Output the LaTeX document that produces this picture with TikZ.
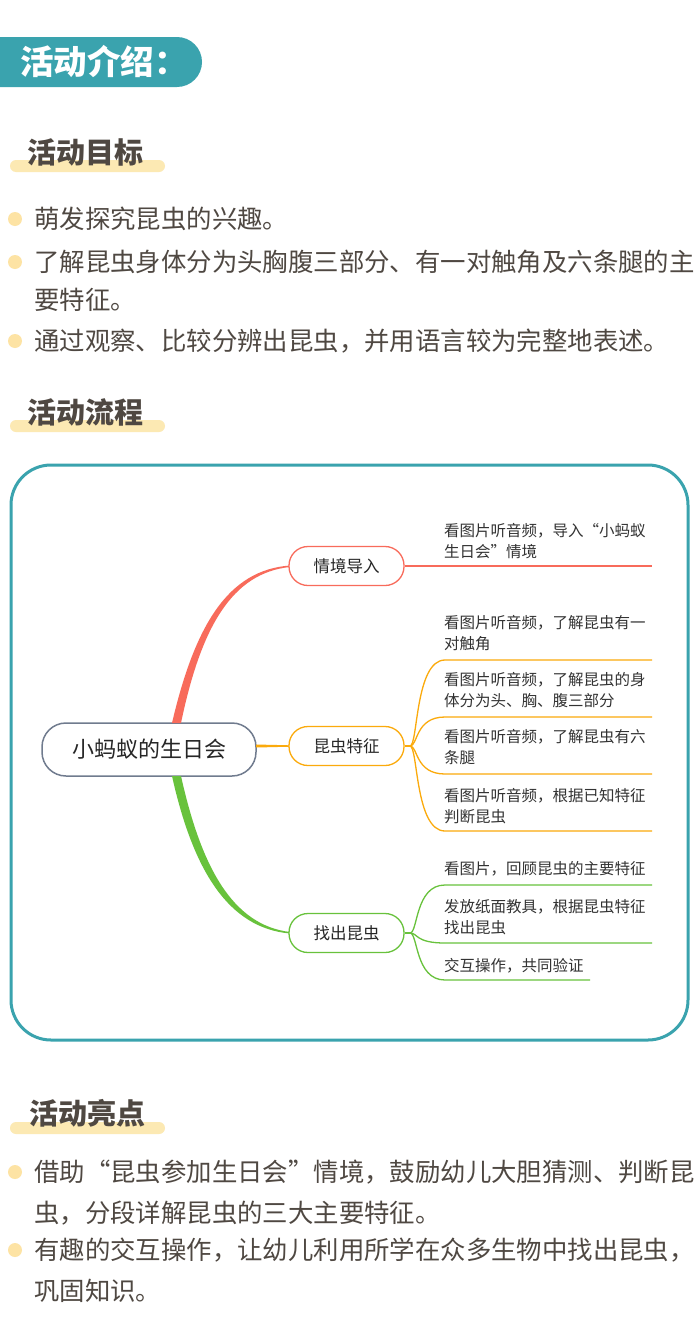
\documentclass[tikz,border=0pt]{standalone}
\usepackage{fontspec}
\newfontfamily\cjk{Noto Sans CJK SC}
\definecolor{teal1}{HTML}{3AA3AE}
\definecolor{txt}{HTML}{4F4842}
\definecolor{hl}{HTML}{FCE9B3}
\definecolor{dot}{HTML}{FDE3A4}
\definecolor{redb}{HTML}{F86B5B}
\definecolor{orab}{HTML}{FBAA0C}
\definecolor{grnb}{HTML}{68C23C}
\definecolor{rootb}{HTML}{707B8E}
\begin{document}
\begin{tikzpicture}[x=1pt,y=-1pt,
  sectitle/.style={anchor=west,inner sep=0pt,text=txt,font=\cjk\bfseries\fontsize{29}{32}\selectfont},
  bullet/.style={anchor=west,inner sep=0pt,text=txt,font=\cjk\fontsize{25.4}{38}\selectfont},
  bdot/.style={fill=dot,draw=none},
  branch/.style={draw=#1,line width=1.3pt,rounded corners=19pt,minimum width=115pt,minimum height=39pt,inner sep=0pt,text=black!85,font=\cjk\fontsize{16.5}{20}\selectfont,fill=white},
  leaf/.style={anchor=west,inner sep=0pt,align=left,text=black!80,font=\cjk\fontsize{15.5}{21}\selectfont},
  lk/.style={draw=#1,line width=1.3pt},
]
\useasboundingbox (0,0) rectangle (700,1333);
\fill[white] (0,0) rectangle (700,1333);
% header pill
\fill[teal1,rounded corners=25pt] (-40,37) rectangle (202,87);
\node[anchor=west,inner sep=0pt,text=white,font=\cjk\bfseries\fontsize{33.5}{36}\selectfont] (hdr) at (20,62) {活动介绍：};
% section 1
\fill[hl,rounded corners=6pt] (10,160) rectangle (165,172);
\node[sectitle] (s1) at (27,152) {活动目标};
\fill[bdot] (15,219) circle (7);
\node[bullet] (b1) at (34,219) {萌发探究昆虫的兴趣。};
\fill[bdot] (15,262) circle (7);
\node[bullet] (b2) at (34,262) {了解昆虫身体分为头胸腹三部分、有一对触角及六条腿的主};
\node[bullet] (b2b) at (34,300) {要特征。};
\fill[bdot] (15,341) circle (7);
\node[bullet] (b3) at (34,341) {通过观察、比较分辨出昆虫，并用语言较为完整地表述。};
% section 2
\fill[hl,rounded corners=6pt] (10,420) rectangle (165,432);
\node[sectitle] (s2) at (27,412) {活动流程};
% frame
\draw[teal1,line width=3pt,rounded corners=40pt] (11,465) rectangle (688,1040);
% root
\node[draw=rootb,line width=1.5pt,rounded corners=24pt,minimum width=214pt,minimum height=53pt,inner sep=0pt,text=black!85,font=\cjk\fontsize{22}{26}\selectfont] (root) at (149,749.5) {小蚂蚁的生日会};
% main branches
\fill[redb] (172,723) .. controls (195,625) and (228,570) .. (290,565.5) -- (290,567) .. controls (232,573) and (201,627) .. (181,723) -- cycle;
\fill[grnb] (172,776) .. controls (193,870) and (228,928) .. (290,933.5) -- (290,932) .. controls (232,925) and (201,866) .. (181,776) -- cycle;
\fill[orab] (256,744.5) -- (290,745.3) -- (290,746.7) -- (256,747.5) -- cycle;
\node[branch=redb] (n1) at (346.5,566) {情境导入};
\node[branch=orab] (n2) at (346.5,746) {昆虫特征};
\node[branch=grnb] (n3) at (346.5,933) {找出昆虫};
% red leaf
\coordinate (r1) at (652,566);
\draw[lk=redb] (n1.east) -- (r1);
\node[leaf] (l1) at (444,541) {看图片听音频，导入“小蚂蚁\\生日会”情境};
% orange leaves
\coordinate (o0) at (410,746);
\draw[lk=orab] (n2.east) -- (o0);
\coordinate (o1) at (652,660);
\coordinate (o2) at (652,717);
\coordinate (o3) at (652,774);
\coordinate (o4) at (652,831);
\draw[lk=orab] (o0) .. controls (418,746) and (415,660) .. (445,660) -- (o1);
\draw[lk=orab] (o0) .. controls (418,746) and (415,717) .. (445,717) -- (o2);
\draw[lk=orab] (o0) .. controls (418,746) and (415,774) .. (445,774) -- (o3);
\draw[lk=orab] (o0) .. controls (418,746) and (415,831) .. (445,831) -- (o4);
\node[leaf] (l2) at (444,633) {看图片听音频，了解昆虫有一\\对触角};
\node[leaf] (l3) at (444,690.5) {看图片听音频，了解昆虫的身\\体分为头、胸、腹三部分};
\node[leaf] (l4) at (444,747.5) {看图片听音频，了解昆虫有六\\条腿};
\node[leaf] (l5) at (444,806) {看图片听音频，根据已知特征\\判断昆虫};
% green leaves
\coordinate (g0) at (410,933);
\draw[lk=grnb] (n3.east) -- (g0);
\coordinate (g1) at (652,885);
\coordinate (g2) at (652,943);
\coordinate (g3) at (590,980);
\draw[lk=grnb] (g0) .. controls (418,933) and (415,885) .. (445,885) -- (g1);
\draw[lk=grnb] (g0) .. controls (418,933) and (415,943) .. (445,943) -- (g2);
\draw[lk=grnb] (g0) .. controls (418,933) and (415,980) .. (445,980) -- (g3);
\node[leaf] (l6) at (444,869) {看图片，回顾昆虫的主要特征};
\node[leaf] (l7) at (444,917) {发放纸面教具，根据昆虫特征\\找出昆虫};
\node[leaf] (l8) at (444,966) {交互操作，共同验证};
% section 3
\fill[hl,rounded corners=6pt] (10,1122) rectangle (165,1134);
\node[sectitle] (s3) at (29,1113) {活动亮点};
\fill[bdot] (15,1172) circle (7);
\node[bullet] (c1) at (34,1172) {借助“昆虫参加生日会”情境，鼓励幼儿大胆猜测、判断昆};
\node[bullet] (c1b) at (34,1213) {虫，分段详解昆虫的三大主要特征。};
\fill[bdot] (15,1250) circle (7);
\node[bullet] (c2) at (34,1250) {有趣的交互操作，让幼儿利用所学在众多生物中找出昆虫，};
\node[bullet] (c2b) at (34,1291) {巩固知识。};
\end{tikzpicture}
\end{document}
